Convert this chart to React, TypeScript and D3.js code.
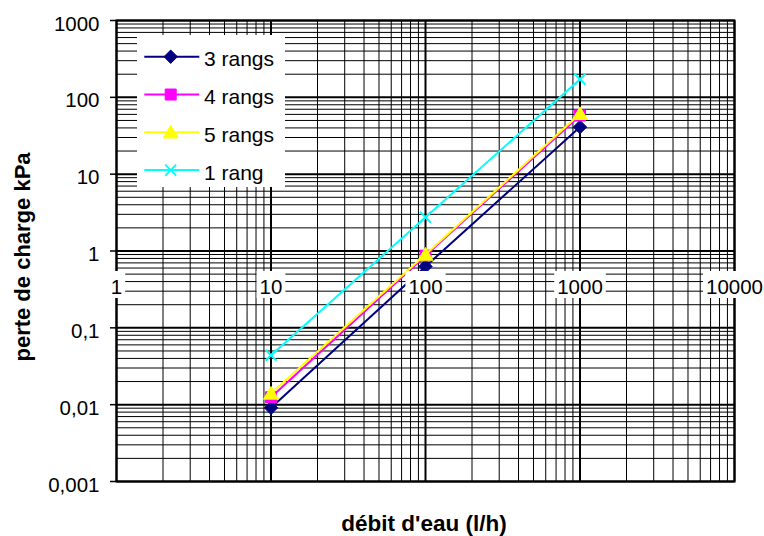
import React from "react";
import * as d3 from "d3";

const categories = [10, 100, 1000];
const seriesNames = ["3 rangs", "4 rangs", "5 rangs", "1 rang"];
const rangs3 = [0.0091, 0.63, 41];
const rangs4 = [0.0125, 0.87, 58];
const rangs5 = [0.014, 0.9, 61];
const rang1 = [0.044, 2.75, 172];
const seriesColors = ["#000080", "#FF00FF", "#FFFF00", "#00FFFF"];
const seriesMarkers = ["diamond", "square", "triangle", "cross"];
const xTickValues = [1, 10, 100, 1000, 10000];
const xTickLabels = ["1", "10", "100", "1000", "10000"];
const yTickValues = [0.001, 0.01, 0.1, 1, 10, 100, 1000];
const yTickLabels = ["0,001", "0,01", "0,1", "1", "10", "100", "1000"];
const xTitle = "débit d'eau (l/h)";
const yTitle = "perte de charge kPa";

const W = 764;
const H = 536;
const FONT = "'Liberation Sans', Arial, Helvetica, sans-serif";

const markerPath: Record<string, string> = {
  diamond: "M0,-6.7L6.7,0L0,6.7L-6.7,0Z",
  square: "M-5.5,-5.5H5.5V5.5H-5.5Z",
  triangle: "M0,-7L7.5,5.7L-7.5,5.7Z",
  cross: "M-5.5,-5.5L5.5,5.5M5.5,-5.5L-5.5,5.5",
};

function Marker({ type, color, x, y }: { type: string; color: string; x: number; y: number }) {
  if (type === "cross") {
    return <path d={markerPath.cross} transform={`translate(${x},${y})`} stroke={color} strokeWidth={2} fill="none" />;
  }
  return <path d={markerPath[type]} transform={`translate(${x},${y})`} fill={color} stroke={color} strokeWidth={1} />;
}

export default function App() {
  const x = d3.scaleLog().domain([1, 10000]).range([116.5, 734.5]);
  const y = d3.scaleLog().domain([0.001, 1000]).range([481.5, 20.5]);
  const [x0, x1] = x.range();
  const [y0, y1] = y.range();

  const isMajor = (v: number) => Math.abs(Math.log10(v) - Math.round(Math.log10(v))) < 1e-9;
  const xGrid = x.ticks();
  const yGrid = y.ticks();

  const allSeries = [rangs3, rangs4, rangs5, rang1];
  const line = d3
    .line<number>()
    .x((_, i) => x(categories[i]))
    .y((d) => y(d));

  const labelBaseline = y(1) + 43;
  const legendX = 137;
  const legendY = 35;
  const legendRow0 = 56.7;
  const legendStep = 37.8;

  return (
    <svg width={W} height={H} style={{ position: "absolute", left: 0, top: 0 }} fontFamily={FONT}>
      <rect x={0} y={0} width={W} height={H} fill="#fff" />
      {/* minor grid */}
      {xGrid.filter((v) => !isMajor(v)).map((v, i) => (
        <line key={"xm" + i} x1={x(v)} x2={x(v)} y1={y1} y2={y0} stroke="#000" strokeWidth={1} />
      ))}
      {yGrid.filter((v) => !isMajor(v)).map((v, i) => (
        <line key={"ym" + i} x1={x0} x2={x1} y1={y(v)} y2={y(v)} stroke="#000" strokeWidth={1} />
      ))}
      {/* major grid */}
      {xGrid.filter(isMajor).map((v, i) => (
        <line key={"xM" + i} x1={x(v)} x2={x(v)} y1={y1} y2={y0} stroke="#000" strokeWidth={2} />
      ))}
      {yGrid.filter(isMajor).map((v, i) => (
        <line key={"yM" + i} x1={x0} x2={x1} y1={y(v)} y2={y(v)} stroke="#000" strokeWidth={2} />
      ))}
      <rect x={x0} y={y1} width={x1 - x0} height={y0 - y1} fill="none" stroke="#000" strokeWidth={2} />
      {/* y ticks and labels */}
      {yTickValues.map((v, i) => (
        <g key={"yt" + i}>
          <line x1={x0 - 6.5} x2={x0} y1={y(v)} y2={y(v)} stroke="#000" strokeWidth={1.5} />
          <text x={99.5} y={y(v) + 10} textAnchor="end" fontSize={20.5} fill="#000">
            {yTickLabels[i]}
          </text>
        </g>
      ))}
      {/* series */}
      {allSeries.map((s, si) => (
        <g key={"s" + si}>
          <path d={line(s) || ""} fill="none" stroke={seriesColors[si]} strokeWidth={2} />
          {s.map((v, i) => (
            <Marker key={i} type={seriesMarkers[si]} color={seriesColors[si]} x={x(categories[i])} y={y(v)} />
          ))}
        </g>
      ))}
      {/* x labels with white boxes at y=1 */}
      {xTickValues.map((v, i) => {
        const w = xTickLabels[i].length * 11.4;
        return (
          <g key={"xt" + i}>
            <rect x={x(v) - w / 2 - 3} y={labelBaseline - 23} width={w + 6} height={27} fill="#fff" />
            <text x={x(v)} y={labelBaseline} textAnchor="middle" fontSize={20.5} fill="#000">
              {xTickLabels[i]}
            </text>
          </g>
        );
      })}
      {/* legend */}
      <rect x={legendX} y={legendY} width={148} height={152} fill="#fff" />
      {seriesNames.map((name, i) => {
        const ly = legendRow0 + i * legendStep;
        return (
          <g key={"lg" + i}>
            <line x1={144.3} x2={199.3} y1={ly} y2={ly} stroke={seriesColors[i]} strokeWidth={2} />
            <Marker type={seriesMarkers[i]} color={seriesColors[i]} x={170.7} y={ly} />
            <text x={204} y={ly + 9.5} fontSize={21} fill="#000">
              {name}
            </text>
          </g>
        );
      })}
      {/* axis titles */}
      <text x={424} y={531} textAnchor="middle" fontSize={22.5} fontWeight="bold" fill="#000">
        {xTitle}
      </text>
      <text
        transform={`translate(30,257) rotate(-90)`}
        textAnchor="middle"
        fontSize={22}
        fontWeight="bold"
        fill="#000"
      >
        {yTitle}
      </text>
    </svg>
  );
}
